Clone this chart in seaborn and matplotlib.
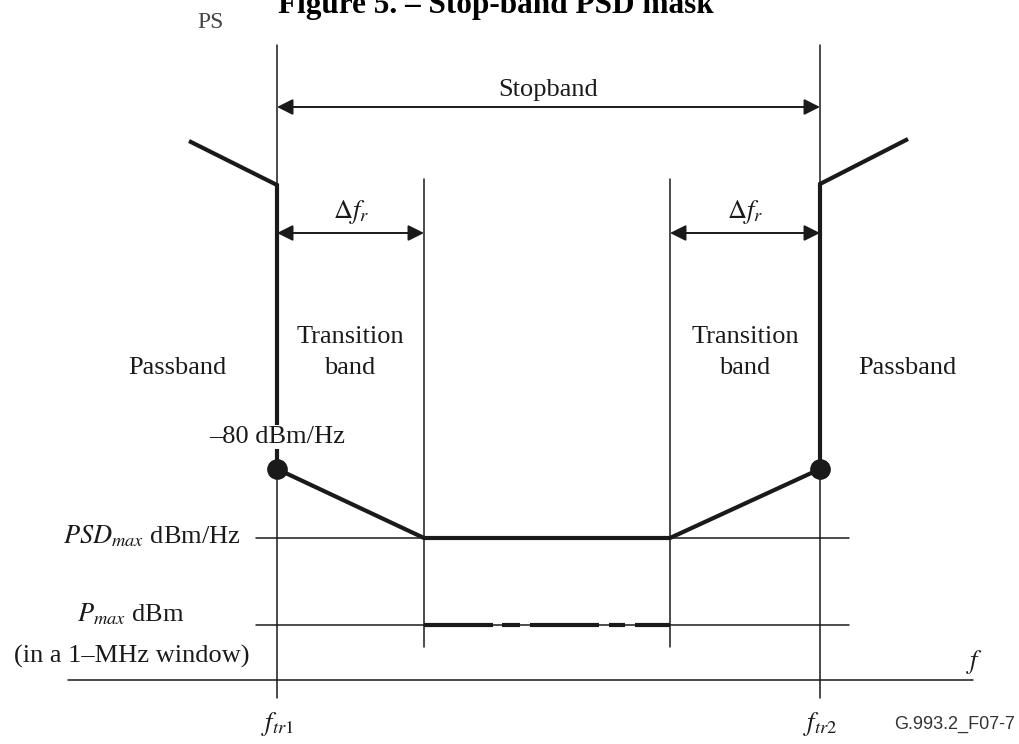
import matplotlib
matplotlib.use('Agg')
import matplotlib.pyplot as plt
import seaborn as sns

sns.set_style('white')
plt.rcParams['font.family'] = ['Liberation Serif', 'DejaVu Serif']
plt.rcParams['mathtext.fontset'] = 'stix'

# Diagram geometry (drawing units, y grows downward)
f_tr1, f_tr2 = 277, 820
f_in1, f_in2 = 424, 670
psd_max_level = 538
p_max_level = 625
dot_level = 469
axis_level = 680

# PSD mask (thick line)
mask_f = [189, f_tr1, f_tr1, f_in1, f_in2, f_tr2, f_tr2, 908]
mask_psd = [141, 185, dot_level, psd_max_level, psd_max_level, dot_level, 184, 139]

# -80 dBm/Hz points
dot_f = [f_tr1, f_tr2]
dot_psd = [dot_level, dot_level]

# P_max dashes within the stopband
pmax_dash_start = [424, 502, 530, 609, 635]
pmax_dash_end = [493, 520, 599, 625, 670]

band_labels = [['Passband'], ['Transition', 'band'], ['Transition', 'band'], ['Passband']]
band_label_x = [177, 350, 745, 907]

fig = plt.figure(figsize=(10.19, 7.44), dpi=100)
ax = fig.add_axes([0, 0, 1, 1])
ax.set_xlim(0, 1019)
ax.set_ylim(744, 0)
ax.axis('off')

ink = '#1a1a1a'
thin = 1.1

# guide lines
for x in [f_tr1, f_tr2]:
    ax.plot([x, x], [45, 698], color=ink, lw=thin)
for x in [f_in1, f_in2]:
    ax.plot([x, x], [179, 647], color=ink, lw=thin)
for y in [psd_max_level, p_max_level]:
    ax.plot([256, 849], [y, y], color=ink, lw=thin)
ax.plot([68, 973], [axis_level, axis_level], color=ink, lw=thin)

# mask
sns.lineplot(x=mask_f, y=mask_psd, sort=False, estimator=None, color=ink,
             lw=3.0, ax=ax, solid_joinstyle='miter', solid_capstyle='butt')
sns.scatterplot(x=dot_f, y=dot_psd, s=190, color=ink, edgecolor=ink, ax=ax, zorder=5)

for a, b in zip(pmax_dash_start, pmax_dash_end):
    ax.plot([a, b], [p_max_level, p_max_level], color=ink, lw=3.0, solid_capstyle='butt')

# arrows
arrow = dict(arrowstyle='<|-|>', color=ink, lw=1.4, mutation_scale=24,
             shrinkA=0, shrinkB=0)
ax.annotate('', xy=(f_tr1, 107), xytext=(f_tr2, 107), arrowprops=arrow)
ax.annotate('', xy=(f_tr1, 233), xytext=(f_in1, 233), arrowprops=arrow)
ax.annotate('', xy=(f_in2, 233), xytext=(f_tr2, 233), arrowprops=arrow)

fs = 19
ax.text((f_tr1 + f_tr2) / 2, 90, 'Stopband', fontsize=fs, ha='center', va='center', color=ink)
ax.text((f_tr1 + f_in1) / 2, 212, r'$\Delta f_r$', fontsize=fs, ha='center', va='center', color=ink)
ax.text((f_in2 + f_tr2) / 2, 212, r'$\Delta f_r$', fontsize=fs, ha='center', va='center', color=ink)

for lines, x in zip(band_labels, band_label_x):
    ys = [368] if len(lines) == 1 else [337, 368]
    for txt, y in zip(lines, ys):
        ax.text(x, y, txt, fontsize=fs, ha='center', va='center', color=ink)

ax.text(f_tr1, 437, '\u201380 dBm/Hz', fontsize=fs, ha='center', va='center', color=ink,
        bbox=dict(facecolor='white', edgecolor='none', pad=0.5), zorder=6)
ax.text(241, psd_max_level - 2, r'$PSD_{max}$ dBm/Hz', fontsize=fs, ha='right', va='center', color=ink)
ax.text(131, 614, r'$P_{max}$ dBm', fontsize=fs, ha='center', va='center', color=ink)
ax.text(132, 656, '(in a 1\u2013MHz window)', fontsize=fs, ha='center', va='center', color=ink)

ax.text(975, 662, r'$f$', fontsize=fs, ha='center', va='center', color=ink)
ax.text(f_tr1, 724, r'$f_{tr1}$', fontsize=fs, ha='center', va='center', color=ink)
ax.text(f_tr2, 724, r'$f_{tr2}$', fontsize=fs, ha='center', va='center', color=ink)
ax.text(1015, 724, 'G.993.2_F07-7', fontsize=13, ha='right', va='center',
        color='#333333', family=['Liberation Sans', 'DejaVu Sans'])

# cut-off header text
ax.text(278, 13, 'Figure 5. \u2013 Stop-band PSD mask', fontsize=22.5, fontweight='bold',
        ha='left', va='baseline', color='black')
ax.text(197, 28, 'PS', fontsize=17, ha='left', va='baseline', color='#444444')

fig.savefig('out.png', dpi=100)
